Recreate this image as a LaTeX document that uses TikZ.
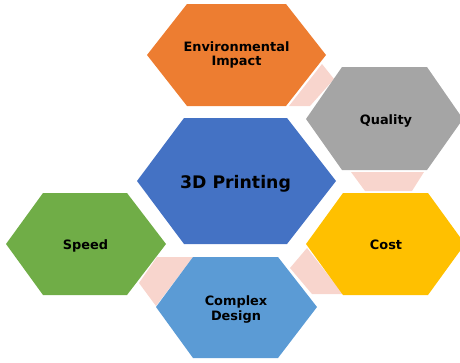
\documentclass[tikz,border=0pt]{standalone}
\usepackage{fontspec}
\setmainfont{DejaVu Sans}
\definecolor{envorange}{HTML}{ED7D31}
\definecolor{qualgray}{HTML}{A5A5A5}
\definecolor{coreblue}{HTML}{4472C4}
\definecolor{speedgreen}{HTML}{70AD47}
\definecolor{costgold}{HTML}{FFC000}
\definecolor{designblue}{HTML}{5B9BD5}
\definecolor{linkpink}{HTML}{F8D5CD}
\begin{document}
\begin{tikzpicture}[x=1pt,y=-1pt,
  hexa/.style={fill=#1,draw=none},
  link/.style={fill=linkpink,draw=none},
  lbl/.style={font=\bfseries\fontsize{12.9}{14.2}\selectfont,align=center,text=black,inner sep=0pt,anchor=base},
  biglbl/.style={lbl,font=\bfseries\fontsize{17.3}{20}\selectfont}]
\useasboundingbox (0,0) rectangle (460,362);
\clip (0,0) rectangle (460,362);

% linking wedges between neighbouring cells
\fill[link] (322,64) -- (334,79) -- (310,106) -- (289,106) -- cycle;
\fill[link] (351,172) -- (424,172) -- (412,191) -- (365,191) -- cycle;
\fill[link] (307,248) -- (290,268) -- (312,294) -- (343,294) -- cycle;
\fill[link] (157,257) -- (193,257) -- (156,306) -- (139,283) -- cycle;

% hexagonal cells
\fill[hexa=envorange]   (147,55) -- (187,4) -- (286,4) -- (326,55) -- (286,106) -- (187,106) -- cycle;
\fill[hexa=qualgray]    (306,119) -- (342,67) -- (427,67) -- (463,119) -- (427,170) -- (342,170) -- cycle;
\fill[hexa=coreblue]    (137,181) -- (184,118) -- (287,118) -- (336,181) -- (287,244) -- (184,244) -- cycle;
\fill[hexa=speedgreen]  (6,244) -- (43,193) -- (127,193) -- (166,244) -- (127,295) -- (43,295) -- cycle;
\fill[hexa=costgold]    (306,244) -- (343,193) -- (428,193) -- (465,244) -- (428,295) -- (343,295) -- cycle;
\fill[hexa=designblue]  (156,307) -- (193,257) -- (278,257) -- (317,307) -- (278,358) -- (193,358) -- cycle;

% labels (multi-line labels sit on the baseline of their last line)
\node[lbl] (env) at (236.5,65.7) {Environmental\\Impact};
\node[lbl] (quality) at (386,124.3) {Quality};
\node[biglbl] (core) at (235.5,188.3) {3D Printing};
\node[lbl] (speed) at (85.5,249) {Speed};
\node[lbl] (cost) at (386,249) {Cost};
\node[lbl] (design) at (236,320) {Complex\\Design};
\end{tikzpicture}
\end{document}
